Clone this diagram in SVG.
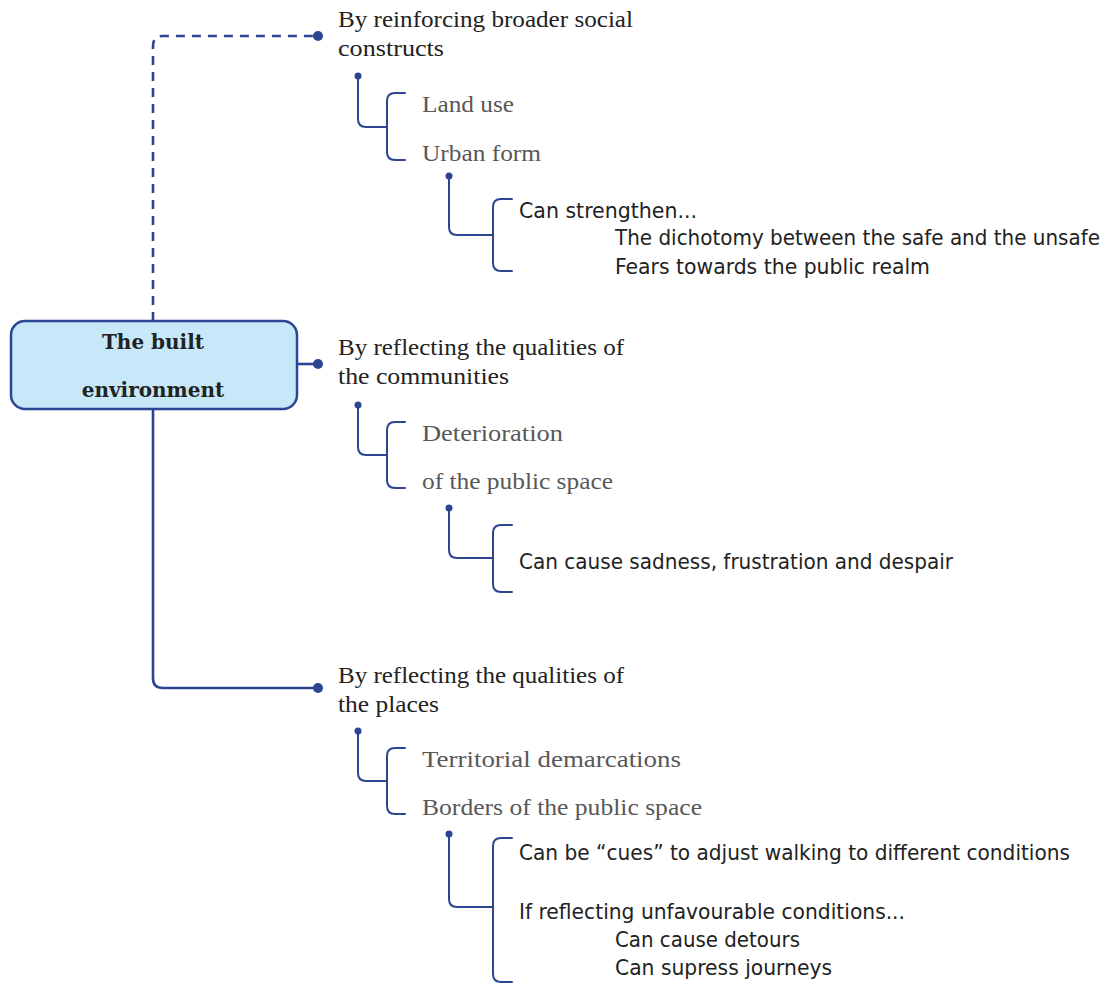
<svg xmlns="http://www.w3.org/2000/svg" width="1104" height="983" viewBox="0 0 1104 983">
<style>
.ln{fill:none;stroke:#2b4592;stroke-width:2;stroke-linecap:round;stroke-linejoin:round}
.main{fill:none;stroke:#2b4592;stroke-width:2.6}
.dash{stroke-dasharray:9 7}
.dot{fill:#2b4592}
.l1{font-family:"Liberation Serif","DejaVu Serif",serif;font-size:24px;fill:#222}
.l2{font-family:"Liberation Serif","DejaVu Serif",serif;font-size:24px;fill:#585858}
.l3{font-family:"Liberation Sans Narrow","DejaVu Sans Condensed","Liberation Sans",sans-serif;font-size:21px;fill:#222}
.ct{font-family:"DejaVu Serif","Liberation Serif",serif;font-size:20px;font-weight:bold;fill:#222;text-anchor:middle}
</style>
<g id="connectors">
<path class="main dash" d="M153 321 V46 Q153 36 163 36 H318"/>
<line class="main" x1="297" y1="364" x2="318" y2="364"/>
<path class="main" d="M153 409 V678 Q153 688 163 688 H318"/>
<circle class="dot" cx="318" cy="36" r="5"/>
<circle class="dot" cx="318" cy="364" r="5"/>
<circle class="dot" cx="318" cy="688" r="5"/>
</g>
<g id="root">
<rect x="11" y="321" width="286" height="88" rx="14" fill="#c6e8f8" stroke="#2b4592" stroke-width="2.5"/>
<text class="ct" x="153" y="349">The built</text>
<text class="ct" x="153" y="397">environment</text>
</g>
<g id="branch1">
<text class="l1" x="338" y="27" textLength="295" lengthAdjust="spacingAndGlyphs">By reinforcing broader social</text>
<text class="l1" x="338" y="56" textLength="106" lengthAdjust="spacingAndGlyphs">constructs</text>
<circle class="dot" cx="358" cy="76" r="3.5"/>
<path class="ln" d="M358 76 V119 Q358 127 366 127 H387"/>
<path class="ln" d="M405 93 H395 Q387 93 387 101 V152 Q387 160 395 160 H405"/>
<text class="l2" x="422" y="112" textLength="92" lengthAdjust="spacingAndGlyphs">Land use</text>
<text class="l2" x="422" y="161" textLength="119" lengthAdjust="spacingAndGlyphs">Urban form</text>
<circle class="dot" cx="449" cy="176" r="3.5"/>
<path class="ln" d="M449 176 V227 Q449 235 457 235 H493"/>
<path class="ln" d="M512 199 H501 Q493 199 493 207 V263 Q493 271 501 271 H512"/>
<text class="l3" x="519" y="218" textLength="178" lengthAdjust="spacingAndGlyphs">Can strengthen...</text>
<text class="l3" x="615" y="245" textLength="485" lengthAdjust="spacingAndGlyphs">The dichotomy between the safe and the unsafe</text>
<text class="l3" x="615" y="274" textLength="315" lengthAdjust="spacingAndGlyphs">Fears towards the public realm</text>
</g>
<g id="branch2">
<text class="l1" x="338" y="355" textLength="286" lengthAdjust="spacingAndGlyphs">By reflecting the qualities of</text>
<text class="l1" x="338" y="384" textLength="171" lengthAdjust="spacingAndGlyphs">the communities</text>
<circle class="dot" cx="358" cy="405" r="3.5"/>
<path class="ln" d="M358 405 V447 Q358 455 366 455 H387"/>
<path class="ln" d="M405 422 H395 Q387 422 387 430 V480 Q387 488 395 488 H405"/>
<text class="l2" x="422" y="441" textLength="141" lengthAdjust="spacingAndGlyphs">Deterioration</text>
<text class="l2" x="422" y="489" textLength="191" lengthAdjust="spacingAndGlyphs">of the public space</text>
<circle class="dot" cx="449" cy="508" r="3.5"/>
<path class="ln" d="M449 508 V550 Q449 558 457 558 H493"/>
<path class="ln" d="M512 525 H501 Q493 525 493 533 V584 Q493 592 501 592 H512"/>
<text class="l3" x="519" y="569" textLength="434" lengthAdjust="spacingAndGlyphs">Can cause sadness, frustration and despair</text>
</g>
<g id="branch3">
<text class="l1" x="338" y="683" textLength="286" lengthAdjust="spacingAndGlyphs">By reflecting the qualities of</text>
<text class="l1" x="338" y="712" textLength="101" lengthAdjust="spacingAndGlyphs">the places</text>
<circle class="dot" cx="358" cy="731" r="3.5"/>
<path class="ln" d="M358 731 V773 Q358 781 366 781 H387"/>
<path class="ln" d="M405 748 H395 Q387 748 387 756 V806 Q387 814 395 814 H405"/>
<text class="l2" x="422" y="767" textLength="259" lengthAdjust="spacingAndGlyphs">Territorial demarcations</text>
<text class="l2" x="422" y="815" textLength="280" lengthAdjust="spacingAndGlyphs">Borders of the public space</text>
<circle class="dot" cx="449" cy="834" r="3.5"/>
<path class="ln" d="M449 834 V899 Q449 907 457 907 H493"/>
<path class="ln" d="M512 838 H501 Q493 838 493 846 V974 Q493 982 501 982 H512"/>
<text class="l3" x="519" y="860" textLength="551" lengthAdjust="spacingAndGlyphs">Can be “cues” to adjust walking to different conditions</text>
<text class="l3" x="519" y="919" textLength="386" lengthAdjust="spacingAndGlyphs">If reflecting unfavourable conditions...</text>
<text class="l3" x="615" y="947" textLength="185" lengthAdjust="spacingAndGlyphs">Can cause detours</text>
<text class="l3" x="615" y="975" textLength="217" lengthAdjust="spacingAndGlyphs">Can supress journeys</text>
</g>
</svg>
